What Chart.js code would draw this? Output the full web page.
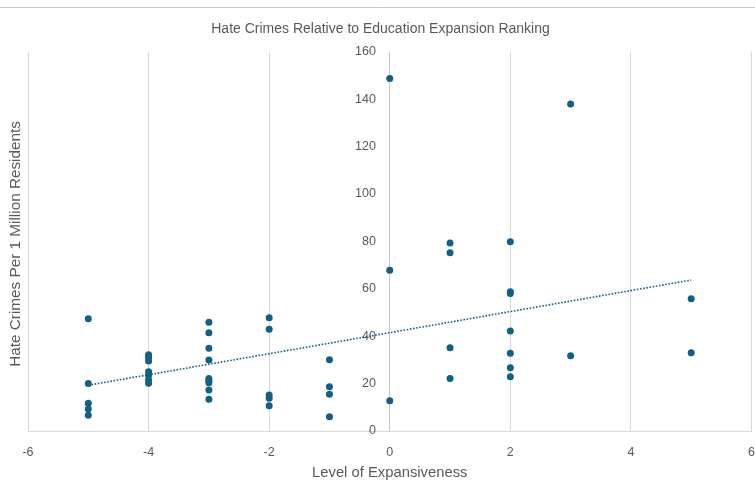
<!DOCTYPE html>
<html>
<head>
<meta charset="utf-8">
<script src="https://cdn.jsdelivr.net/npm/chart.js@4"></script>
<style>
  html, body { margin: 0; padding: 0; background: #ffffff; overflow: hidden; }
  #wrap { position: relative; width: 755px; height: 483px; }
</style>
</head>
<body>
<div id="wrap"><canvas id="c" width="755" height="483"></canvas></div>
<script>
// Level of expansiveness (x) and hate crimes per 1 million residents (y)
const expansiveness = [
  -5, -5, -5, -5, -5,
  -4, -4, -4, -4, -4, -4, -4,
  -3, -3, -3, -3, -3, -3, -3, -3, -3,
  -2, -2, -2, -2, -2,
  -1, -1, -1, -1,
   0,  0,  0,
   1,  1,  1,  1,
   2,  2,  2,  2,  2,  2,  2,
   3,  3,
   5,  5
];
const hateCrimes = [
  47.4, 20.0, 11.7, 9.3, 6.6,
  32.2, 31.0, 29.5, 25.0, 23.5, 21.5, 20.1,
  45.9, 41.5, 34.9, 30.0, 22.2, 21.2, 20.4, 17.3, 13.4,
  47.8, 42.9, 15.2, 13.8, 10.7,
  30.1, 18.7, 15.5, 6.0,
  148.7, 67.8, 12.8,
  79.3, 75.2, 35.1, 22.1,
  79.9, 58.8, 58.0, 42.2, 32.8, 26.7, 22.9,
  138.0, 31.8,
  55.8, 33.0
];
// Linear trendline (ends at x = -5 and x = 5)
const trendX = [-5, 5];
const trendY = [19.3, 63.7];

const xTicks = [-6, -4, -2, 0, 2, 4, 6];
const yTicks = [0, 20, 40, 60, 80, 100, 120, 140, 160];

const titleText = 'Hate Crimes Relative to Education Expansion Ranking';
const xTitle = 'Level of Expansiveness';
const yTitle = 'Hate Crimes Per 1 Million Residents';

const points = expansiveness.map((x, i) => ({ x: x, y: hateCrimes[i] }));
const trend = trendX.map((x, i) => ({ x: x, y: trendY[i] }));

const TEXT = '#595959';
const GRID = '#d9d9d9';
const AXIS = '#c4c4c4';
const MARK = '#156082';
const FONT = "'Liberation Sans', Arial, sans-serif";

const extras = {
  id: 'extras',
  afterDraw(chart) {
    const ctx = chart.ctx;
    const a = chart.chartArea;
    ctx.save();
    // thin frame line along the top
    ctx.strokeStyle = '#c8c8c8';
    ctx.lineWidth = 1;
    ctx.beginPath();
    ctx.moveTo(0, 7.5);
    ctx.lineTo(chart.width, 7.5);
    ctx.stroke();
    // vertical axis title at the far left
    ctx.fillStyle = TEXT;
    ctx.font = '15.3px ' + FONT;
    ctx.textAlign = 'center';
    ctx.textBaseline = 'middle';
    ctx.translate(16, (a.top + a.bottom) / 2 + 2.5);
    ctx.rotate(-Math.PI / 2);
    ctx.fillText(yTitle, 0, 0);
    ctx.restore();
  }
};

new Chart(document.getElementById('c'), {
  type: 'scatter',
  data: {
    datasets: [
      {
        label: 'Hate crimes',
        data: points,
        backgroundColor: MARK,
        borderColor: MARK,
        pointRadius: 3.5,
        pointHoverRadius: 3.5,
        borderWidth: 0,
        order: 1
      },
      {
        type: 'line',
        label: 'Linear trend',
        data: trend,
        borderColor: MARK,
        borderWidth: 1.6,
        borderDash: [1.6, 1.6],
        pointRadius: 0,
        fill: false,
        order: 2
      }
    ]
  },
  options: {
    responsive: false,
    animation: false,
    events: [],
    layout: { padding: { left: 8, right: 2, top: 0, bottom: 0 } },
    plugins: {
      legend: { display: false },
      tooltip: { enabled: false },
      title: {
        display: true,
        text: titleText,
        color: TEXT,
        font: { family: FONT, size: 14, weight: 'normal' },
        padding: { top: 21, bottom: 14 }
      }
    },
    scales: {
      x: {
        type: 'linear',
        min: xTicks[0],
        max: xTicks[xTicks.length - 1],
        afterBuildTicks: s => { s.ticks = xTicks.map(v => ({ value: v })); },
        afterFit: s => { s.paddingRight = 0; s.paddingLeft = 28; s.height = 52; },
        grid: {
          color: c => (c.tick && c.tick.value === 0 ? AXIS : GRID),
          lineWidth: 1,
          drawTicks: false
        },
        border: { display: true, color: GRID, width: 1 },
        ticks: { color: TEXT, font: { family: FONT, size: 12.5 }, padding: 14 },
        title: {
          display: true,
          text: xTitle,
          color: TEXT,
          font: { family: FONT, size: 14.8 },
          padding: { top: 4, bottom: 1 }
        }
      },
      y: {
        type: 'linear',
        position: { x: -0.23 },
        min: yTicks[0],
        max: yTicks[yTicks.length - 1],
        afterBuildTicks: s => { s.ticks = yTicks.map(v => ({ value: v })); },
        grid: { display: false, drawTicks: false },
        border: { display: false },
        ticks: { color: TEXT, font: { family: FONT, size: 12.5 }, padding: 0 }
      }
    }
  },
  plugins: [extras]
});
</script>
</body>
</html>
